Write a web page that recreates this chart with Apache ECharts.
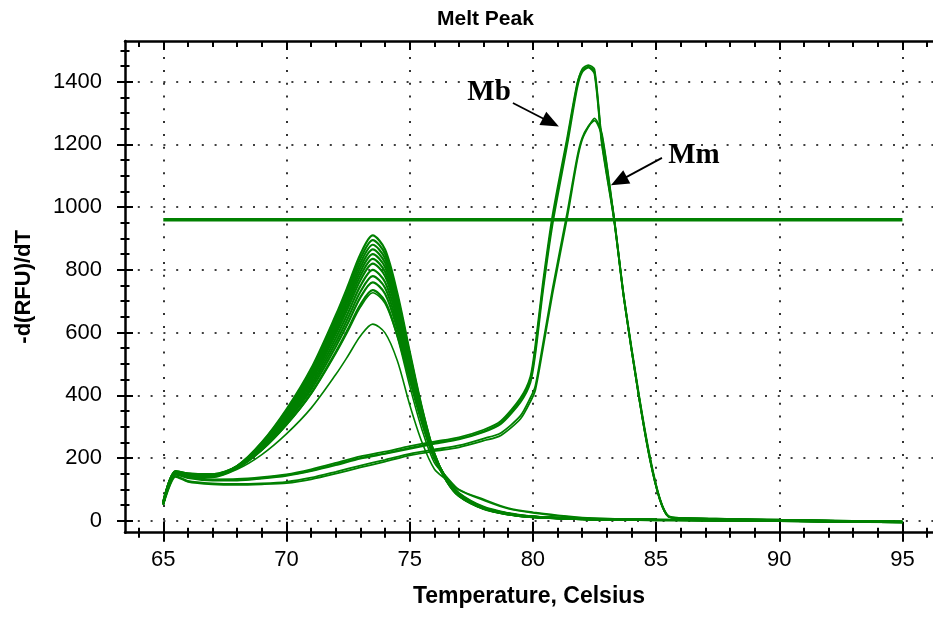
<!DOCTYPE html>
<html><head><meta charset="utf-8">
<script src="https://cdn.jsdelivr.net/npm/echarts@6/dist/echarts.min.js"></script>
<style>html,body{margin:0;padding:0;background:#fff}#c{width:933px;height:617px}</style>
</head><body><div id="c"></div>
<script>
// ---- data ----
const tempA = [65, 65.5, 66, 67, 68, 69, 70, 71, 72, 72.5, 73, 73.5, 74, 74.5, 75, 75.5, 76, 76.5, 77, 78, 79, 80, 82, 85, 90, 95];
const a910 = [55,158,150,148,175,250,355,485,655,750,850,910,865,725,540,360,215,130,82,40,22,12,6,3,0,-4];
const a895 = [58,156,149,147,174,248,351,478,645,738,836,895,851,714,532,356,214,128,80,39,21,12,6,3,0,-4];
const a880 = [52,155,148,146,174,246,347,472,635,726,822,880,837,702,525,352,212,132,84,41,22,13,6,3,0,-5];
const a865 = [60,157,150,148,173,244,343,465,625,714,808,865,823,691,517,347,211,127,79,38,20,11,5,3,-1,-4];
const a850 = [56,154,147,145,173,242,339,458,615,703,795,850,809,680,509,343,210,134,86,42,23,13,6,3,0,-5];
const a835 = [54,156,149,146,172,240,334,452,605,691,781,835,794,668,501,339,208,129,81,40,21,12,6,2,0,-4];
const a820 = [62,153,146,144,171,238,330,445,595,679,767,820,780,657,493,335,207,131,83,41,22,12,5,3,-1,-5];
const a800 = [57,155,148,145,171,235,325,436,582,663,749,800,761,642,483,329,205,126,78,37,20,11,5,2,0,-4];
const a780 = [53,152,145,143,170,232,319,427,568,647,730,780,743,626,473,323,203,133,85,42,23,13,6,3,0,-5];
const a760 = [59,154,147,144,169,229,314,418,555,631,712,760,724,611,463,318,201,128,80,39,21,12,5,3,-1,-4];
const a735 = [55,151,144,142,168,226,307,407,538,612,689,735,700,592,450,311,199,135,88,44,24,13,6,3,0,-5];
const a727 = [52,150,143,141,168,225,305,404,533,605,681,727,693,586,430,290,185,140,100,68,40,27,10,4,0,-4];
const a627 = [50,148,140,138,164,211,277,359,466,526,589,627,599,510,370,250,165,130,98,65,38,25,9,4,0,-5];

const tempB = [65, 65.5, 66, 67, 68, 69, 70, 71, 72, 73, 74, 75, 76, 77, 78, 78.7, 79.5, 79.9, 80.1, 80.4, 80.8, 81.4, 81.8, 82, 82.25, 82.5, 82.8, 83.3, 83.7, 84.3, 84.75, 85.15, 85.5, 86, 88, 90, 95];
const mb1 = [55,150,138,130,130,136,145,160,180,200,215,232,248,262,285,312,385,450,545,740,960,1215,1390,1440,1453,1440,1215,965,710,400,200,70,14,9,6,3,-3];
const mb2 = [52,147,136,128,128,134,143,158,177,198,213,229,245,259,282,308,378,440,530,725,945,1200,1380,1430,1445,1425,1200,955,705,395,195,68,13,8,5,2,-4];
const mb3 = [58,152,140,132,133,139,148,164,184,205,220,238,252,266,290,318,392,460,560,755,975,1225,1395,1435,1448,1432,1208,960,712,405,205,72,15,9,6,3,-3];
const mm1 = [50,140,124,116,114,116,120,132,150,170,188,208,222,234,255,272,325,380,417,545,725,970,1150,1215,1255,1283,1235,962,708,398,198,69,13,8,5,2,-4];
const mm2 = [53,143,127,119,117,119,124,137,156,176,194,213,227,240,262,280,335,392,430,560,740,985,1160,1220,1258,1276,1228,958,706,397,197,68,13,8,5,2,-4];

const tempH = [65, 95];
const thresh = [960, 960];

const xMajor = [65, 70, 75, 80, 85, 90, 95];
const xMinor = [64,65,66,67,68,69,70,71,72,73,74,75,76,77,78,79,80,81,82,83,84,85,86,87,88,89,90,91,92,93,94,95,96];
const yMajor = [0, 200, 400, 600, 800, 1000, 1200, 1400];
const yMinor = [0,50,100,150,200,250,300,350,400,450,500,550,600,650,700,750,800,850,900,950,1000,1050,1100,1150,1200,1250,1300,1350,1400,1450,1500];

// annotations (data coordinates)
const labelMb = [78.22, 1364];
const labelMm = [86.54, 1166];
const arrowMb = [[79.19, 1332], [80.73, 1270]];
const arrowMm = [[85.24, 1157], [83.49, 1083]];

// ---- chart ----
const X_MIN = 63.446, X_MAX = 96.24, Y_MIN = -38.3, Y_MAX = 1529.8;
const GREEN = '#008000';
const FONT = 'Liberation Sans, Arial, sans-serif';

function zip(xs, ys) { return xs.map((x, i) => [x, ys[i]]); }

function xAx(position, extra) {
  return Object.assign({
    type: 'value', min: X_MIN, max: X_MAX, position: position,
    axisLine: { show: false, onZero: false },
    axisTick: { show: false }, axisLabel: { show: false },
    splitLine: { show: false }, minorTick: { show: false }
  }, extra);
}
function yAx(extra) {
  return Object.assign({
    type: 'value', min: Y_MIN, max: Y_MAX, position: 'left',
    axisLine: { show: false, onZero: false },
    axisTick: { show: false }, axisLabel: { show: false },
    splitLine: { show: false }, minorTick: { show: false }
  }, extra);
}
function ticks(vals, len, inside) {
  return { show: true, inside: inside, length: len, customValues: vals, lineStyle: { color: '#000', width: 2 } };
}
const axisLineBlack = { show: true, onZero: false, lineStyle: { color: '#000', width: 2.5 } };

const bigFamily = [a910, a895, a880, a865, a850, a835, a820, a800, a780, a760, a735, a727, a627];
const series = [];

series.push({
  type: 'line', name: 'threshold', data: zip(tempH, thresh), showSymbol: false, silent: true,
  lineStyle: { color: GREEN, width: 3.5 }, z: 3,
  markLine: {
    silent: true, symbol: 'none', z: 1, animation: false,
    label: { show: false },
    lineStyle: { color: '#000', width: 1.6, type: [2, 10.8], opacity: 1 },
    data: xMajor.map(v => ({ xAxis: v })).concat(yMajor.map(v => ({ yAxis: v })))
  }
});

bigFamily.forEach((arr, i) => {
  series.push({
    type: 'line', data: zip(tempA, arr), showSymbol: false, silent: true,
    smooth: 0.3,
    lineStyle: { color: GREEN, width: i >= 11 ? 1.6 : 2.2 }, z: 2
  });
});

[mb1, mb2, mb3, mm1, mm2].forEach((arr, i) => {
  const s = {
    type: 'line', data: zip(tempB, arr), showSymbol: false, silent: true,
    smooth: 0.25,
    lineStyle: { color: GREEN, width: 1.8 }, z: 2
  };
  if (i === 0) {
    s.markLine = {
      silent: true, animation: false, z: 6,
      symbol: ['none', 'triangle'], symbolSize: [15, 18],
      label: { show: false },
      lineStyle: { color: '#000', width: 1.8, type: 'solid' },
      data: [
        [{ coord: arrowMb[0] }, { coord: arrowMb[1] }],
        [{ coord: arrowMm[0] }, { coord: arrowMm[1] }]
      ]
    };
    s.markPoint = {
      silent: true, animation: false, symbol: 'circle', symbolSize: 1,
      itemStyle: { color: 'rgba(0,0,0,0)' },
      label: { show: true, position: 'inside', color: '#000', fontFamily: 'Liberation Serif, Times New Roman, serif', fontWeight: 'bold', fontSize: 29 },
      data: [
        { coord: labelMb, label: { formatter: 'Mb' } },
        { coord: labelMm, label: { formatter: 'Mm' } }
      ]
    };
  }
  series.push(s);
});

const option = {
  animation: false,
  backgroundColor: '#fff',
  title: {
    text: 'Melt Peak', left: 432, top: 4,
    textStyle: { fontFamily: FONT, fontSize: 21, fontWeight: 'bold', color: '#000' }
  },
  grid: { left: 125, top: 41, right: 0, bottom: 84.3, containLabel: false },
  xAxis: [
    xAx('bottom', {
      axisLine: axisLineBlack,
      axisTick: ticks(xMajor, 9, false),
      axisLabel: { show: true, customValues: xMajor, fontSize: 22, margin: 16, color: '#000', fontFamily: FONT, formatter: v => String(v) },
      name: 'Temperature, Celsius', nameLocation: 'middle', nameGap: 52,
      nameTextStyle: { fontSize: 23, fontWeight: 'bold', color: '#000', fontFamily: FONT }
    }),
    xAx('bottom', { axisTick: ticks(xMajor, 11, true) }),
    xAx('bottom', { axisTick: ticks(xMinor, 5, false) }),
    xAx('bottom', { axisTick: ticks(xMinor, 5, true) }),
    xAx('top', { axisLine: axisLineBlack, axisTick: ticks(xMinor, 6, true) }),
    xAx('top', { axisTick: ticks(xMajor, 9, true) })
  ],
  yAxis: [
    yAx({
      axisLine: axisLineBlack,
      axisTick: ticks(yMajor, 8, false),
      axisLabel: { show: true, customValues: yMajor, fontSize: 22, margin: 23, color: '#000', fontFamily: FONT, formatter: v => String(v) },
      name: '-d(RFU)/dT', nameLocation: 'middle', nameGap: 90,
      nameTextStyle: { fontSize: 22, fontWeight: 'bold', color: '#000', fontFamily: FONT }
    }),
    yAx({ axisTick: ticks(yMajor, 8, true) }),
    yAx({ axisTick: ticks(yMinor, 4.5, false) }),
    yAx({ axisTick: ticks(yMinor, 4.5, true) })
  ],
  series: series
};

const chart = echarts.init(document.getElementById('c'), null, { renderer: 'canvas' });
chart.setOption(option);
</script>
</body></html>
